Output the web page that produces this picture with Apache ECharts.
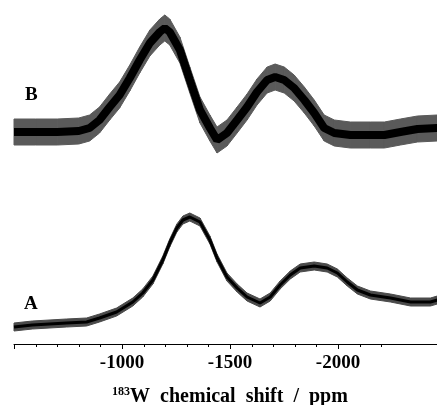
<!DOCTYPE html>
<html><head><meta charset="utf-8">
<script src="https://cdn.jsdelivr.net/npm/echarts@6/dist/echarts.min.js"></script>
<style>html,body{margin:0;padding:0;background:#fff}#c{width:437px;height:405px}</style>
</head><body><div id="c"></div>
<script>
// chemical shift positions (ppm) and intensities (arbitrary units)
const ppmB = [-500,-600,-700,-800,-850,-896,-943,-989,-1036,-1082,-1129,-1175,-1198,-1221,-1268,-1314,-1361,-1407,-1440,-1486,-1533,-1579,-1625,-1672,-1709,-1751,-1797,-1844,-1890,-1936,-1983,-2057,-2150,-2215,-2289,-2368,-2460];
const intB = [13,13,13,14,17,25,38,50,67,85,102,113,117,113,95,65,35,17,5,12,25,38,53,65,68,65,57,45,32,17,12,10,10,10,13,16,17];
const ppmA = [-500,-585,-743,-836,-896,-975,-1050,-1096,-1143,-1189,-1221,-1254,-1282,-1314,-1361,-1407,-1440,-1486,-1533,-1579,-1639,-1686,-1732,-1779,-1825,-1890,-1950,-1997,-2043,-2090,-2150,-2243,-2336,-2428,-2460];
const intA = [3,5,7,8,12,18,28,37,50,70,87,102,110,113,108,90,72,53,42,33,27,33,45,55,62,64,62,57,48,40,35,32,28,28,30];
const noiseB = 13;   // half-width of the noise envelope, trace B
const noiseA = 4;    // half-width of the noise envelope, trace A
const minorTicks = [-500,-600,-700,-800,-900,-1000,-1100,-1200,-1300,-1400,-1500,-1600,-1700,-1800,-1900,-2000,-2100,-2200];
const majorTicks = [-500,-1000,-1500,-2000];
const tickLabels = [-1000,-1500,-2000];
const traceLabels = ['B','A'];

const serif = '"Liberation Serif","DejaVu Serif",serif';
const yMinA = -14;
function pairs(xs, ys){ return xs.map((x,i)=>[x, ys[i]]); }
// segments of the noise envelope: [x0, lo0, hi0, x1, lo1, hi1]
function segs(xs, ys, n){
  const out = [];
  for (let i=0;i<xs.length-1;i++) out.push([xs[i], ys[i]-n, ys[i]+n, xs[i+1], ys[i+1]-n, ys[i+1]+n]);
  return out;
}

function trace(xs, ys, n, idx, coreW, bandColor){
  return [
    {type:'custom', xAxisIndex:idx, yAxisIndex:idx, data:segs(xs,ys,n), silent:true, clip:false,
     encode:{x:[0,3], y:[1,2,4,5]},
     renderItem:function(params, api){
       const p1 = api.coord([api.value(0), api.value(2)]);
       const p2 = api.coord([api.value(3), api.value(5)]);
       const p3 = api.coord([api.value(3), api.value(4)]);
       const p4 = api.coord([api.value(0), api.value(1)]);
       return {type:'polygon', shape:{points:[p1,p2,p3,p4]},
               style:{fill:bandColor, stroke:bandColor, lineWidth:1}};
     }},
    {type:'line', xAxisIndex:idx, yAxisIndex:idx, data:pairs(xs,ys), symbol:'none',
     lineStyle:{color:'#000', width:coreW}, silent:true, clip:false}
  ];
}

// axis tick marks drawn at the tick values through the x scale
function tickSeries(vals, len){
  return {type:'custom', xAxisIndex:0, yAxisIndex:0, silent:true, clip:false,
    data:vals.map(v=>[v, yMinA]), encode:{x:0, y:1},
    renderItem:function(params, api){
      const p = api.coord([api.value(0), api.value(1)]);
      const x = Math.round(p[0]) + 0.5;
      return {type:'line', shape:{x1:x, y1:p[1], x2:x, y2:p[1]+len},
              style:{stroke:'#000', lineWidth:1}};
    }};
}

const chart = echarts.init(document.getElementById('c'), null, {renderer:'canvas'});
chart.setOption({
  animation:false,
  backgroundColor:'#fff',
  grid:[
    {left:14, right:-9, top:150, bottom:61, outerBoundsMode:'none', containLabel:false},
    {left:14, right:-9, top:0, bottom:235, outerBoundsMode:'none', containLabel:false}
  ],
  xAxis:[
    {type:'value', gridIndex:0, position:'bottom', inverse:true, min:-2500, max:-500, interval:100,
     axisLine:{show:true, onZero:false, lineStyle:{color:'#000', width:1}},
     axisTick:{show:false},
     axisLabel:{formatter:function(v){return tickLabels.indexOf(v) >= 0 ? String(v) : '';},
                color:'#000', fontFamily:serif, fontWeight:'bold', fontSize:19, margin:10,
                showMinLabel:true, showMaxLabel:true, hideOverlap:false, interval:0},
     splitLine:{show:false},
     name:'{s|183}{w|W  chemical  shift  /  ppm}', nameLocation:'middle', nameGap:42,
     nameTextStyle:{rich:{
       s:{fontFamily:serif, fontWeight:'bold', fontSize:12, color:'#000', verticalAlign:'top', lineHeight:22},
       w:{fontFamily:serif, fontWeight:'bold', fontSize:20, color:'#000', lineHeight:22}
     }}},
    {type:'value', gridIndex:1, inverse:true, min:-2500, max:-500, show:false}
  ],
  yAxis:[
    {type:'value', gridIndex:0, min:yMinA, max:180, show:false},
    {type:'value', gridIndex:1, min:-25, max:145, show:false}
  ],
  graphic:[
    {type:'text', left:25, top:86, style:{text:traceLabels[0], fill:'#000', font:'bold 19px '+serif}},
    {type:'text', left:24, top:295, style:{text:traceLabels[1], fill:'#000', font:'bold 19px '+serif}}
  ],
  series:[].concat(
    trace(ppmB, intB, noiseB, 1, 8, '#5a5a5a'),
    trace(ppmA, intA, noiseA, 0, 3, '#4a4a4a'),
    [tickSeries(minorTicks, 3), tickSeries(majorTicks, 5)]
  )
});
</script></body></html>
